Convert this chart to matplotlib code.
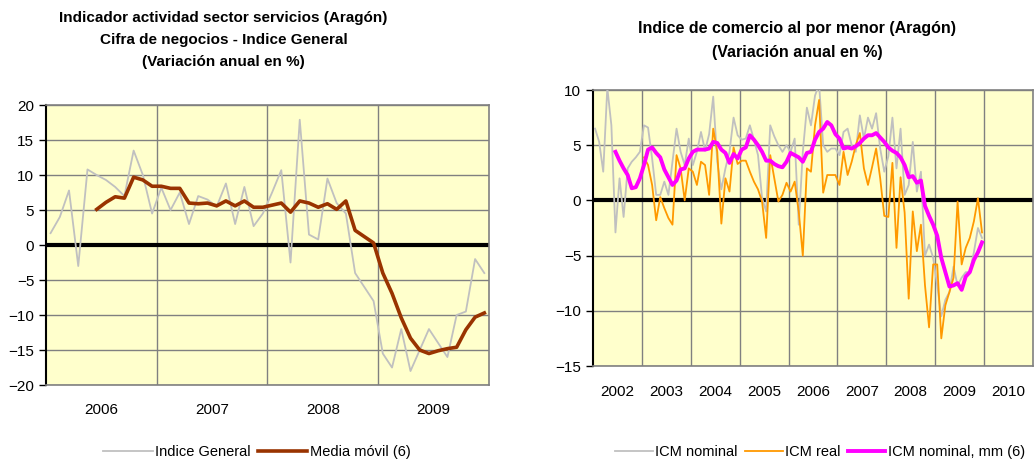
import matplotlib
matplotlib.use("Agg")
import matplotlib.pyplot as plt
import numpy as np

plt.rcParams['font.family'] = ['Liberation Sans', 'DejaVu Sans']

# --- left chart: servicios, monthly Jan 2006 - Dec 2009
serv_years = ["2006", "2007", "2008", "2009"]
indice_general = [1.7, 4.0, 7.8, -3.0, 10.8, 10.0, 9.3, 8.3, 7.0, 13.5, 10.0, 4.5,
                  8.2, 5.0, 7.5, 3.0, 7.0, 6.5, 5.5, 8.8, 3.0, 8.3, 2.7, 4.5,
                  7.5, 10.7, -2.5, 17.9, 1.5, 0.8, 9.5, 6.0, 4.5, -4.0, -6.0, -8.0,
                  -15.5, -17.5, -12.0, -18.0, -15.0, -12.0, -14.0, -16.0, -10.0, -9.5, -2.0, -4.0]
media_movil = [None, None, None, None, None, 5.1, 6.1, 6.9, 6.7, 9.7, 9.3, 8.4,
               8.4, 8.1, 8.1, 6.0, 5.9, 6.0, 5.6, 6.3, 5.6, 6.3, 5.4, 5.4,
               5.7, 6.0, 4.7, 6.3, 6.0, 5.4, 5.9, 5.1, 6.3, 2.1, 1.2, 0.3,
               -4.0, -6.9, -10.4, -13.3, -15.0, -15.5, -15.1, -14.8, -14.6, -12.1, -10.3, -9.7]

# --- right chart: comercio al por menor, monthly Jan 2002 - Dec 2009
icm_years = ["2002", "2003", "2004", "2005", "2006", "2007", "2008", "2009", "2010"]
icm_nominal = [6.5, 5.3, 2.6, 10.2, 6.8, -2.9, 2.0, -1.5, 2.9, 3.5, 3.9, 4.4,
               6.8, 6.6, 3.8, 0.5, 0.5, 1.7, 0.5, 3.5, 6.5, 4.4, 3.2, 5.6,
               3.2, 4.4, 6.2, 4.5, 6.0, 9.4, 3.5, 1.0, 2.9, 4.4, 7.5, 5.9,
               5.5, 5.6, 6.8, 5.5, 4.1, 0.2, -1.0, 6.8, 5.8, 5.0, 4.4, 5.0,
               4.4, 5.6, -2.2, 4.4, 8.4, 6.8, 9.5, 10.5, 5.0, 4.4, 4.7, 4.7,
               4.1, 6.2, 6.5, 5.0, 4.4, 7.7, 5.6, 7.5, 6.5, 7.9, 4.7, 2.6,
               4.0, 7.5, 2.9, 6.5, 0.5, 1.4, 5.3, 0.8, 2.6, -5.0, -4.0, -5.2,
               -7.7, -10.5, -9.0, -8.3, -6.0, -7.7, -7.0, -6.5, -6.5, -4.7, -2.5, -3.4]
icm_real = [None] * 12 + [
               3.9, 3.2, 1.4, -1.8, 0.3, -0.7, -1.6, -2.2, 4.1, 2.9, 0.0, 2.9,
               2.6, 1.4, 3.5, 3.2, 0.5, 6.5, 4.4, -2.1, 2.0, 0.8, 4.8, 3.3,
               3.6, 3.6, 2.6, 1.7, 1.0, -0.1, -3.4, 4.1, 2.0, -0.1, 0.5, 1.6,
               0.8, 1.7, -1.0, -5.0, 2.9, 2.6, 6.8, 9.1, 0.7, 2.3, 2.3, 2.3,
               1.4, 4.4, 2.3, 3.5, 5.0, 6.1, 2.9, 1.4, 3.0, 4.7, 2.0, -1.4,
               -1.5, 3.4, -4.3, 2.1, -1.1, -8.9, -1.0, -4.6, -2.2, -7.7, -11.5, -5.8,
               -5.8, -12.5, -9.5, -8.3, -7.0, -0.1, -5.8, -4.3, -3.4, -1.9, 0.2, -2.9]
icm_mm6 = [None] * 5 + [
               4.4, 3.6, 2.9, 2.3, 1.1, 1.2, 2.0,
               3.2, 4.6, 4.8, 4.3, 3.9, 2.8, 2.1, 1.4, 1.8, 2.8, 2.9, 3.8,
               4.4, 4.6, 4.6, 4.6, 4.7, 5.3, 5.2, 4.6, 4.3, 3.4, 4.2, 3.8,
               4.6, 4.8, 5.9, 5.5, 5.0, 4.4, 3.6, 3.6, 3.3, 3.1, 3.0, 3.5,
               4.3, 4.1, 3.9, 3.5, 4.3, 4.4, 5.5, 6.2, 6.5, 7.1, 6.8, 6.0,
               5.6, 4.7, 4.8, 4.7, 4.9, 5.2, 5.6, 5.9, 5.9, 6.1, 5.7, 5.3,
               4.8, 4.5, 4.3, 3.9, 3.2, 2.1, 2.2, 1.6, 1.8, -0.5, -1.4, -2.2,
               -3.2, -5.2, -6.5, -7.8, -7.7, -7.5, -8.1, -6.9, -6.5, -5.4, -4.7, -3.8]


def to_arr(values):
    return np.array([np.nan if v is None else v for v in values], dtype=float)


def style_axes(ax, years, ylim, step):
    n = len(years) * 12
    ax.set_facecolor("#FFFFCC")
    ax.set_xlim(-0.5, n - 0.5)
    ax.set_ylim(*ylim)
    ax.set_yticks(np.arange(ylim[0], ylim[1] + 1, step))
    # gridlines at year boundaries, labels at year centres
    ax.set_xticks(np.arange(11.5, n - 1, 12))
    ax.set_xticklabels([])
    ax.set_xticks(np.arange(5.5, n, 12), minor=True)
    ax.set_xticklabels(years, minor=True)
    ax.tick_params(axis="x", which="both", length=0, labelsize=11, pad=14)
    ax.tick_params(axis="y", length=5, width=1, direction="out", labelsize=11)
    ax.grid(True, which="major", color="#808080", lw=1)
    ax.set_axisbelow(True)
    for s in ("top", "right", "bottom"):
        ax.spines[s].set_color("#808080")
        ax.spines[s].set_linewidth(1.2)
    ax.spines["left"].set_color("black")
    ax.spines["left"].set_linewidth(1.5)
    ax.axhline(0, color="black", lw=3, zorder=2)


legend_opts = dict(loc="center", frameon=False, handletextpad=0.15,
                   columnspacing=0.5, prop={"size": 10.5})

fig = plt.figure(figsize=(10.35, 4.69), dpi=100)

ax1 = fig.add_axes([0.0444, 0.179, 0.428, 0.597])
style_axes(ax1, serv_years, (-20, 20), 5)
x1 = np.arange(len(indice_general))
ax1.plot(x1, to_arr(indice_general), color="#C0C0C0", lw=1.3, label="Indice General", zorder=3)
ax1.plot(x1, to_arr(media_movil), color="#993300", lw=2.6, label="Media móvil (6)", zorder=4)
ax1.tick_params(axis="x", which="minor", pad=13)
fig.text(0.216, 0.977, "Indicador actividad sector servicios (Aragón)\nCifra de negocios - Indice General\n(Variación anual en %)",
         ha="center", va="top", fontsize=11, fontweight="bold", linespacing=1.75)
fig.legend(handles=ax1.get_lines()[1:], bbox_to_anchor=(0.248, 0.036), ncol=2,
           handlelength=3.4, **legend_opts)

ax2 = fig.add_axes([0.573, 0.2196, 0.425, 0.5885])
style_axes(ax2, icm_years, (-15, 10), 5)
x2 = np.arange(len(icm_nominal))
ax2.plot(x2, to_arr(icm_nominal), color="#C0C0C0", lw=1.3, label="ICM nominal", zorder=3)
ax2.plot(x2, to_arr(icm_real), color="#FF9900", lw=1.3, label="ICM real", zorder=3)
ax2.plot(x2, to_arr(icm_mm6), color="#FF00FF", lw=2.8, label="ICM nominal, mm (6)", zorder=4)
fig.text(0.77, 0.955, "Indice de comercio al por menor (Aragón)\n(Variación anual en %)",
         ha="center", va="top", fontsize=11.5, fontweight="bold", linespacing=1.7)
fig.legend(handles=ax2.get_lines()[1:], bbox_to_anchor=(0.792, 0.036), ncol=3,
           handlelength=2.6, **legend_opts)

fig.savefig("out.png", dpi=100)
